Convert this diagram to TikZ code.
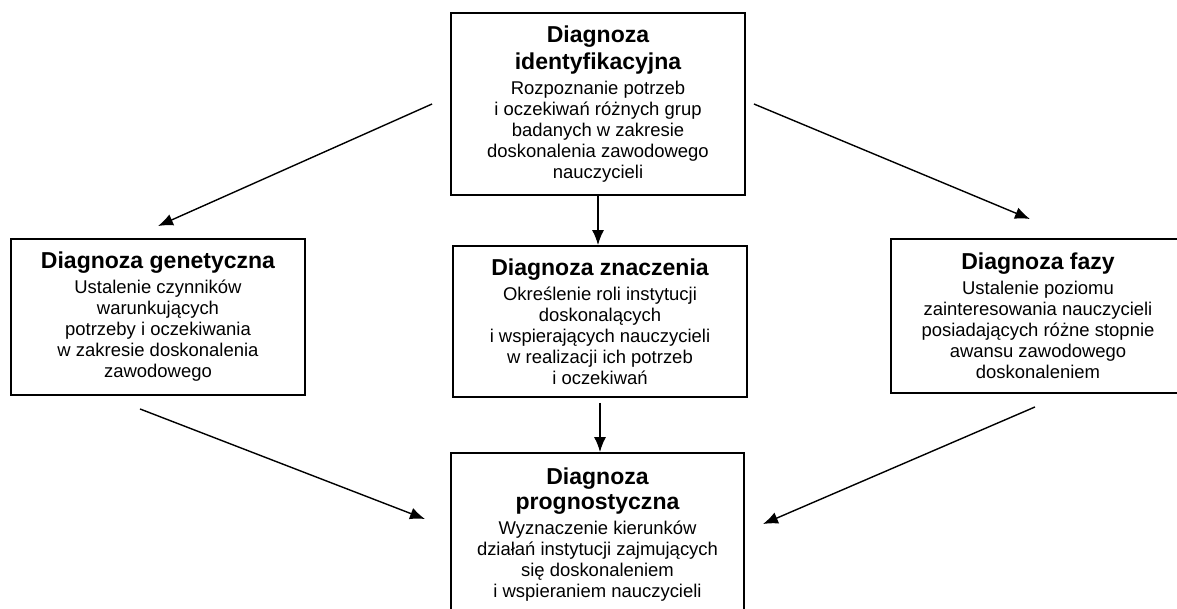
\documentclass[tikz,border=0pt]{standalone}
\usepackage{fontspec}
\setmainfont{Liberation Sans}
\usetikzlibrary{arrows.meta}

\newcommand{\ttl}{\fontsize{13.1}{14.2}\selectfont\bfseries}

\begin{document}
\begin{tikzpicture}[
  box/.style={draw, line width=1.1pt, align=center, minimum width=5.88cm, inner sep=0pt,
    font=\fontsize{10.5}{11.95}\selectfont},
  arr/.style={line width=0.8pt, -{Latex[length=0.3cm,width=0.24cm]}}]
\useasboundingbox (0,0) rectangle (23.54,-12.18);

\node[box, minimum height=3.64cm] (ident) at (11.96,-2.08) {\ttl Diagnoza\\[2.3pt]\ttl identyfikacyjna\\[2.3pt]Rozpoznanie potrzeb\\i oczekiwań różnych grup\\badanych w zakresie\\doskonalenia zawodowego\\nauczycieli};
\node[box, minimum height=3.12cm] (gen) at (3.16,-6.34) {\ttl Diagnoza genetyczna\\[2.3pt]Ustalenie czynników\\warunkujących\\potrzeby i oczekiwania\\w zakresie doskonalenia\\zawodowego};
\node[box, minimum height=3.02cm] (znacz) at (12.00,-6.43) {\ttl Diagnoza znaczenia\\[2.3pt]Określenie roli instytucji\\doskonalących\\i wspierających nauczycieli\\w realizacji ich potrzeb\\i oczekiwań};
\node[box, minimum height=3.08cm] (fazy) at (20.76,-6.32) {\ttl Diagnoza fazy\\[2.3pt]Ustalenie poziomu\\zainteresowania  nauczycieli\\posiadających różne stopnie\\awansu zawodowego\\doskonaleniem};
\node[box, minimum width=5.86cm, minimum height=3.28cm] (prog) at (11.95,-10.70) {\ttl Diagnoza\\[2.3pt]\ttl prognostyczna\\[2.3pt]Wyznaczenie kierunków\\działań instytucji zajmujących\\się doskonaleniem\\i wspieraniem nauczycieli};

\draw[arr] ([xshift=-0.36cm]ident.west) -- ([yshift=0.24cm]gen.north);
\draw[arr] ([xshift=0.16cm]ident.east) -- ([xshift=-0.16cm,yshift=0.38cm]fazy.north);
\draw[arr] (ident.south) -- (ident.south |- znacz.north);
\draw[arr] ([yshift=-0.1cm]znacz.south) -- (znacz.south |- prog.north);
\draw[arr] ([xshift=-0.36cm,yshift=-0.26cm]gen.south) -- ([xshift=-0.5cm,yshift=-1.34cm]prog.north west);
\draw[arr] ([xshift=-0.06cm,yshift=-0.26cm]fazy.south) -- ([xshift=0.36cm,yshift=-1.44cm]prog.north east);
\end{tikzpicture}
\end{document}
